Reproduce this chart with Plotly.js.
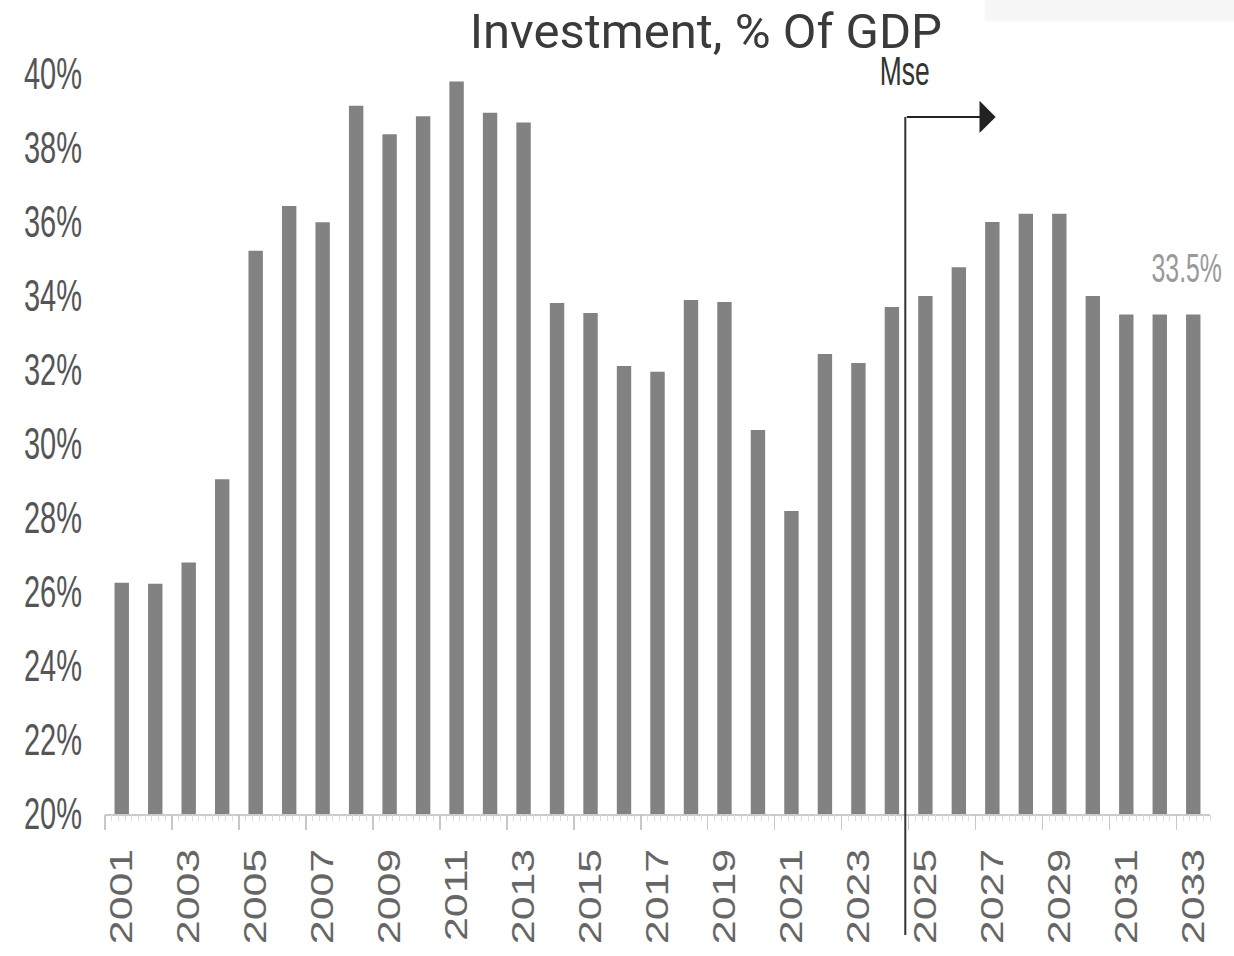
<!DOCTYPE html>
<html>
<head>
<meta charset="utf-8">
<script src="https://cdn.plot.ly/plotly-3.0.1.min.js"></script>
<style>
  html, body { margin: 0; padding: 0; background: #ffffff; }
  #chart { width: 1234px; height: 956px; }
</style>
</head>
<body>
<div id="chart"></div>
<script>
// Gross investment as a share of GDP, actuals and projections
const years = [
  2001, 2002, 2003, 2004, 2005, 2006, 2007, 2008, 2009, 2010, 2011,
  2012, 2013, 2014, 2015, 2016, 2017, 2018, 2019, 2020, 2021, 2022,
  2023, 2024, 2025, 2026, 2027, 2028, 2029, 2030, 2031, 2032, 2033
];
const investmentPct = [
  26.25, 26.22, 26.8, 29.05, 35.22, 36.43, 35.99, 39.14, 38.37, 38.86, 39.8,
  38.95, 38.69, 33.81, 33.54, 32.11, 31.95, 33.89, 33.84, 30.38, 28.19, 32.43,
  32.19, 33.7, 34.0, 34.78, 36.0, 36.22, 36.22, 34.0, 33.5, 33.5, 33.5
];
const yTickValues = [20, 22, 24, 26, 28, 30, 32, 34, 36, 38, 40];
const yTickLabels = yTickValues.map(v => v + '%');
const xLabelYears = years.filter(y => y % 2 === 1);
const xLabelText = xLabelYears.map(String);
const chartTitle = 'Investment, % Of GDP';
const forecastLabel = 'Mse';

const lastYear = years[years.length - 1];
const lastValue = investmentPct[investmentPct.length - 1];

const sansFont = 'Liberation Sans, Arial, Helvetica, sans-serif';
const xRange = [years[0] - 0.5, lastYear + 0.5];
const forecastX = 2024.4;      // divider between actuals and projections
const forecastTop = 0.942;     // paper height of the arrow bracket

const traces = [
  {
    type: 'bar',
    x: years,
    y: investmentPct,
    marker: { color: '#828282', line: { width: 0 } },
    hoverinfo: 'none'
  },
  // empty trace so the ruler-style tick axis gets its own subplot layer
  {
    type: 'scatter', mode: 'none', x: [], y: [],
    xaxis: 'x2', yaxis: 'y', hoverinfo: 'skip', showlegend: false
  }
];

const layout = {
  width: 1234,
  height: 956,
  margin: { l: 105, r: 24, t: 74, b: 142, pad: 0 },
  paper_bgcolor: '#ffffff',
  plot_bgcolor: '#ffffff',
  showlegend: false,
  bargap: 0.57,
  title: {
    text: chartTitle,
    font: { family: 'Roboto, sans-serif', size: 49, color: '#3a3a3a' },
    xref: 'container', x: 0.572, xanchor: 'center',
    yref: 'container', y: 0.968, yanchor: 'middle'
  },
  xaxis: {
    range: xRange,
    tickmode: 'array',
    tickvals: xLabelYears,
    ticktext: xLabelText,
    tickangle: -90,
    ticks: '',
    ticklabelstandoff: 20,
    tickfont: { family: sansFont, size: 32, color: '#666666' },
    showline: true, linecolor: '#cacaca', linewidth: 2,
    showgrid: false, zeroline: false, fixedrange: true
  },
  xaxis2: {
    overlaying: 'x', anchor: 'y', side: 'bottom', range: xRange,
    tickmode: 'linear', tick0: xRange[0], dtick: 2,
    ticks: 'outside', ticklen: 15, tickwidth: 1.5, tickcolor: '#c8c8c8',
    minor: { tickmode: 'linear', tick0: xRange[0], dtick: 0.2, ticks: 'outside',
             ticklen: 6, tickwidth: 1, tickcolor: '#dddddd' },
    showticklabels: false, showgrid: false, zeroline: false, showline: false,
    fixedrange: true
  },
  yaxis: {
    range: [20, 40],
    tickmode: 'array',
    tickvals: yTickValues,
    ticktext: yTickLabels,
    ticks: '',
    ticklabelstandoff: 22,
    tickfont: { family: sansFont, size: 44, color: '#555555' },
    showline: false, showgrid: false, zeroline: false, fixedrange: true
  },
  shapes: [
    {
      type: 'rect', xref: 'paper', yref: 'paper',
      x0: 0.796, x1: 1.03, y0: 1.071, y1: 1.11,
      fillcolor: '#f7f7f7', line: { width: 0 }, layer: 'below'
    },
    {
      type: 'line', xref: 'x', yref: 'paper',
      x0: forecastX, x1: forecastX, y0: -0.1635, y1: forecastTop,
      line: { color: '#333333', width: 2 }
    }
  ],
  annotations: [
    {
      text: '', showarrow: true,
      xref: 'x', x: 2027.1, yref: 'paper', y: forecastTop,
      axref: 'x', ax: forecastX, ayref: 'pixel', ay: 0,
      arrowhead: 1, arrowsize: 2.7, arrowwidth: 2, arrowcolor: '#222222',
      standoff: 0, startstandoff: 0
    },
    {
      text: forecastLabel, showarrow: false,
      xref: 'x', x: forecastX, yref: 'paper', y: 1.0035,
      xanchor: 'center', yanchor: 'middle',
      font: { family: sansFont, size: 40, color: '#333333' }
    },
    {
      text: lastValue.toFixed(1) + '%', showarrow: false,
      xref: 'x', x: lastYear, yref: 'y', y: lastValue,
      xanchor: 'center', yanchor: 'middle', xshift: -7, yshift: 47,
      font: { family: sansFont, size: 40, color: '#999999' }
    }
  ]
};

// Squeeze or stretch text horizontally along its own baseline
function fitText(nodes, factor) {
  nodes.forEach(t => {
    const w = t.getComputedTextLength();
    t.setAttribute('textLength', (w * factor).toFixed(1));
    t.setAttribute('lengthAdjust', 'spacingAndGlyphs');
  });
}

Plotly.newPlot('chart', traces, layout, { staticPlot: true, displayModeBar: false })
  .then(gd => {
    fitText(gd.querySelectorAll('.ytick text'), 0.66);
    fitText(gd.querySelectorAll('.xtick text'), 1.34);
    fitText(gd.querySelectorAll('.annotation[data-index="1"] .annotation-text'), 0.66);
    fitText(gd.querySelectorAll('.annotation[data-index="2"] .annotation-text'), 0.62);
  });
</script>
</body>
</html>
